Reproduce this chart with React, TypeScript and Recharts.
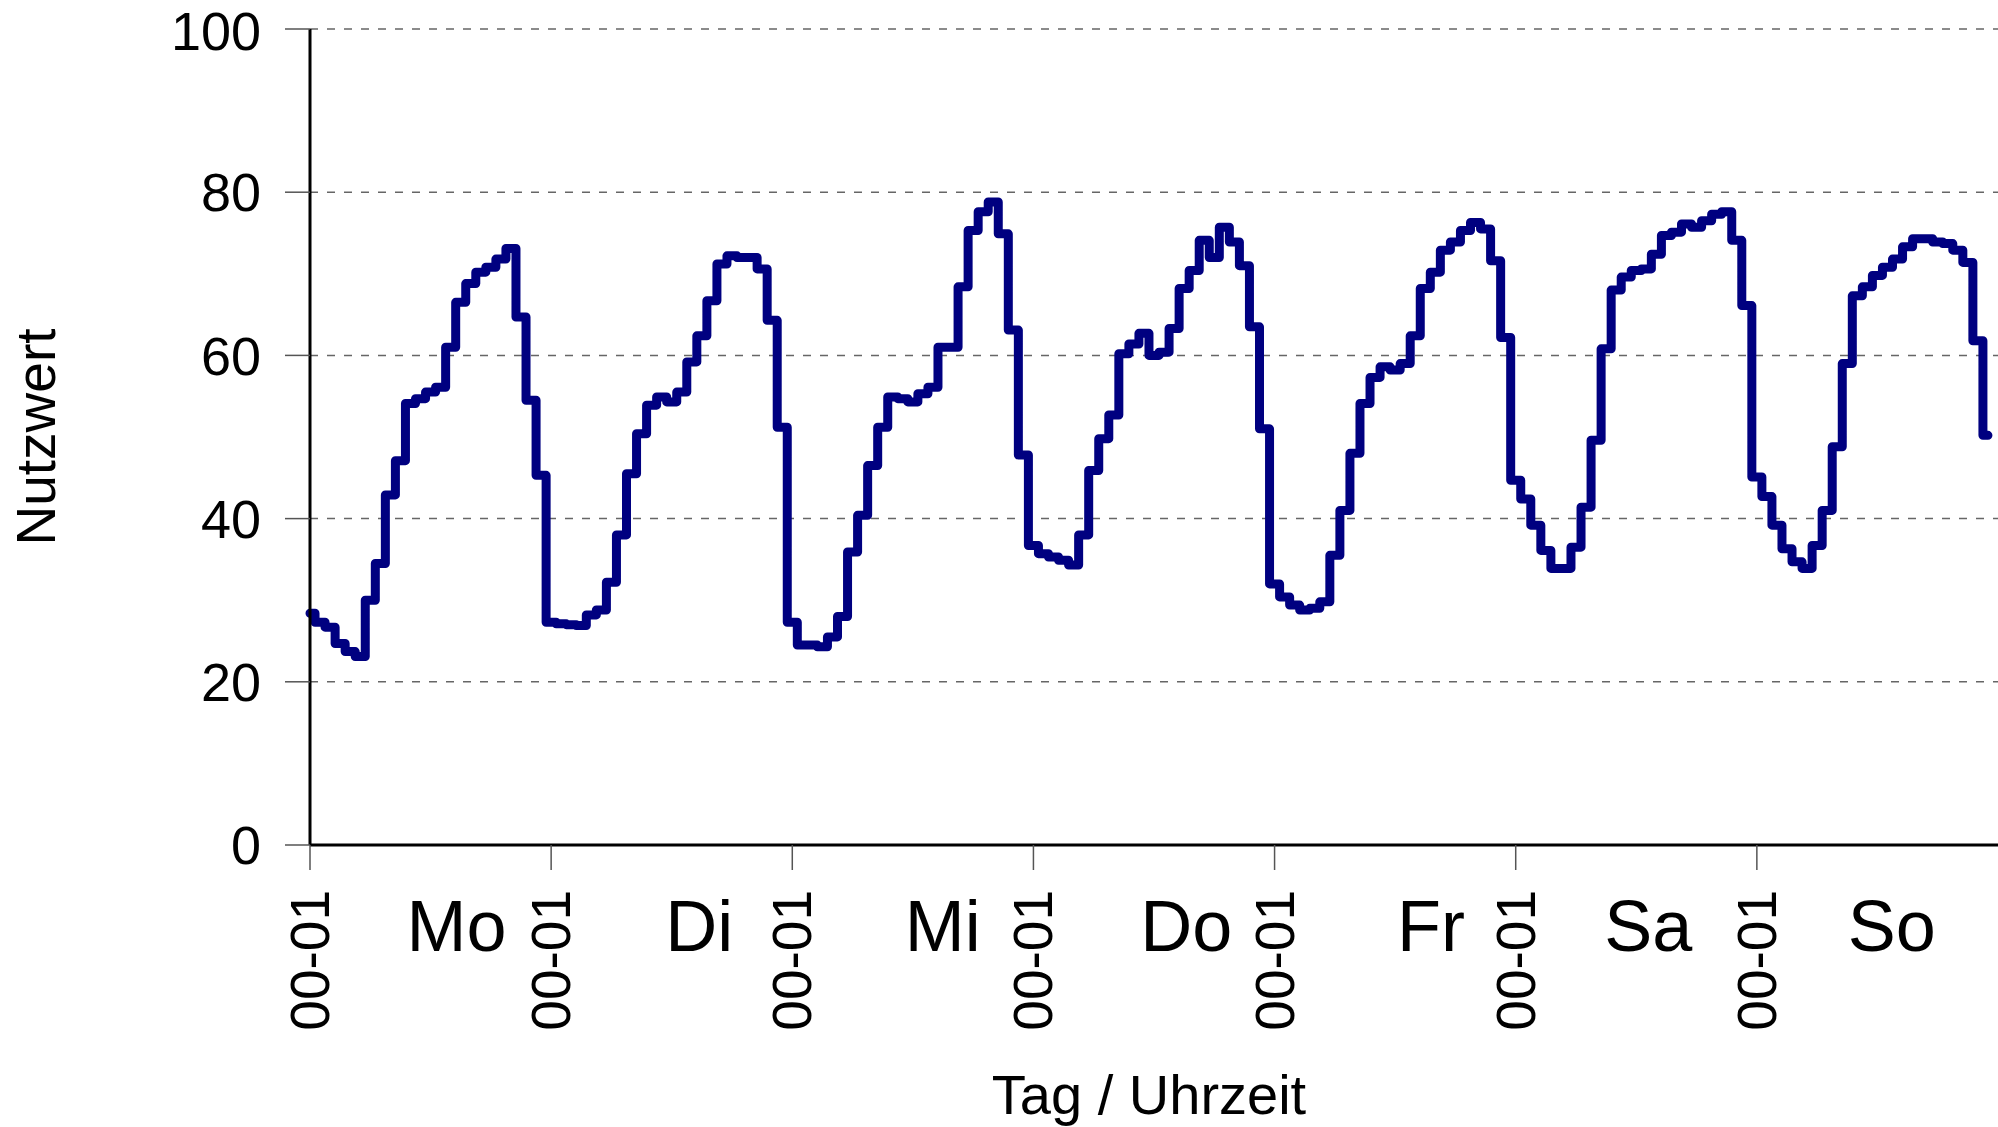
import { LineChart, Line, XAxis, YAxis, CartesianGrid, Customized } from "recharts";

const FONT = "'Liberation Sans', Arial, Helvetica, sans-serif";

// day names and the hour label shown at each day start
const DAYS = ["Mo", "Di", "Mi", "Do", "Fr", "Sa", "So"];
const HOUR_LABEL = "00-01";
const Y_TICKS = [0, 20, 40, 60, 80, 100];

// hourly values, one array per day (hour 0..23)
const MO = [28.4, 27.3, 26.7, 24.7, 23.7, 23.1, 30.0, 34.5, 42.9, 47.1, 54.1, 54.7, 55.5, 56.1, 61.0, 66.5, 68.8, 70.2, 70.8, 71.8, 73.1, 64.7, 54.5, 45.3];
const DI = [27.3, 27.1, 27.0, 26.9, 28.2, 28.8, 32.2, 38.0, 45.5, 50.4, 53.9, 54.9, 54.3, 55.5, 59.2, 62.4, 66.7, 71.2, 72.2, 72.0, 72.0, 70.6, 64.3, 51.2];
const MI = [27.3, 24.5, 24.5, 24.3, 25.5, 28.0, 35.9, 40.4, 46.5, 51.2, 54.9, 54.7, 54.3, 55.3, 56.1, 61.0, 61.0, 68.4, 75.3, 77.6, 78.8, 74.9, 63.1, 47.8];
const DO = [36.7, 35.7, 35.3, 34.9, 34.3, 38.0, 45.9, 49.8, 52.7, 60.2, 61.4, 62.7, 60.0, 60.4, 63.3, 68.2, 70.4, 74.1, 72.0, 75.7, 73.9, 71.0, 63.5, 51.0];
const FR = [32.0, 30.4, 29.4, 28.8, 29.0, 29.8, 35.5, 41.0, 48.0, 54.1, 57.3, 58.6, 58.2, 59.0, 62.4, 68.2, 70.2, 72.9, 73.9, 75.3, 76.3, 75.5, 71.6, 62.2];
const SA = [44.7, 42.4, 39.2, 36.1, 33.9, 33.9, 36.5, 41.4, 49.6, 60.8, 68.0, 69.6, 70.4, 70.6, 72.4, 74.7, 75.1, 76.1, 75.7, 76.5, 77.3, 77.6, 74.1, 66.1];
const SO = [45.1, 42.7, 39.2, 36.3, 34.7, 33.9, 36.7, 41.0, 48.8, 59.0, 67.3, 68.4, 69.8, 70.8, 71.8, 73.3, 74.3, 74.3, 73.9, 73.7, 72.9, 71.4, 61.8, 50.2];

const WEEK = [MO, DI, MI, DO, FR, SA, SO];

// where each day name sits inside its day (hour of day), as in the original layout
const DAY_LABEL_HOUR = [14.5, 14.5, 14.6, 14.7, 14.9, 12.4, 12.5];

const data = WEEK.flat().map((value, hour) => ({ hour, value }));
const dayStarts = DAYS.map((_, i) => i * 24);
const dayLabelTicks = DAYS.map((_, i) => i * 24 + DAY_LABEL_HOUR[i]);

function HourTick({ x, y }: any) {
  return (
    <text
      x={x}
      y={y}
      transform={`rotate(-90 ${x} ${y})`}
      textAnchor="end"
      dominantBaseline="central"
      fontSize={55}
      fontFamily={FONT}
      fill="#000"
    >
      {HOUR_LABEL}
    </text>
  );
}

function DayTick({ x, y, payload }: any) {
  const i = dayLabelTicks.indexOf(payload.value);
  return (
    <text x={x} y={y + 66} textAnchor="middle" fontSize={72} fontFamily={FONT} fill="#000">
      {DAYS[i]}
    </text>
  );
}

function Titles() {
  return (
    <g fontFamily={FONT} fill="#000">
      <text x={55} y={437} transform="rotate(-90 55 437)" textAnchor="middle" fontSize={55}>
        Nutzwert
      </text>
      <text x={1149} y={1114} textAnchor="middle" fontSize={56}>
        Tag / Uhrzeit
      </text>
    </g>
  );
}

export default function App() {
  return (
    <div
      style={{
        position: "absolute",
        left: 0,
        top: 0,
        width: 1998,
        height: 1127,
        overflow: "hidden",
        background: "#fff",
      }}
    >
      <LineChart
        width={1998}
        height={1127}
        data={data}
        margin={{ top: 29, right: 0, bottom: 182, left: 0 }}
      >
        <CartesianGrid vertical={false} stroke="#666" strokeWidth={1.5} strokeDasharray="8 9" />
        <XAxis
          dataKey="hour"
          type="number"
          domain={[0, 168]}
          ticks={dayStarts}
          height={40}
          tickSize={25}
          tickMargin={20}
          tick={<HourTick />}
          tickLine={{ stroke: "#555", strokeWidth: 1.5 }}
          axisLine={{ stroke: "#000", strokeWidth: 3 }}
        />
        <XAxis
          xAxisId="day"
          type="number"
          domain={[0, 168]}
          ticks={dayLabelTicks}
          height={60}
          tickSize={0}
          tickMargin={0}
          tick={<DayTick />}
          tickLine={false}
          axisLine={false}
        />
        <YAxis
          type="number"
          domain={[0, 100]}
          ticks={Y_TICKS}
          width={310}
          tickSize={25}
          tickMargin={24}
          tick={{ fill: "#000", fontSize: 54, fontFamily: FONT }}
          tickLine={{ stroke: "#555", strokeWidth: 1.5 }}
          axisLine={{ stroke: "#000", strokeWidth: 3 }}
        />
        <Line
          type="step"
          dataKey="value"
          stroke="#000080"
          strokeWidth={9}
          strokeLinecap="round"
          strokeLinejoin="round"
          dot={false}
          activeDot={false}
          isAnimationActive={false}
        />
        <Customized component={<Titles />} />
      </LineChart>
    </div>
  );
}
